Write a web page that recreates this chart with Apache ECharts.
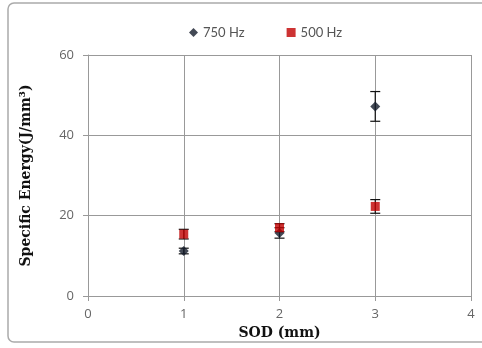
<!DOCTYPE html>
<html>
<head>
<meta charset="utf-8">
<script src="https://cdn.jsdelivr.net/npm/echarts@6/dist/echarts.min.js"></script>
<style>
  html, body { margin: 0; padding: 0; background: #fff; }
  #chart { width: 482px; height: 348px; }
</style>
</head>
<body>
<div id="chart"></div>
<script>
// data
const sod = [1, 2, 3]
const energy750 = [11.2, 15.7, 47.2]
const err750 = [0.7, 1.3, 3.7]
const energy500 = [15.4, 17.0, 22.3]
const err500 = [1.2, 1.0, 1.7]
const xTicks = [0, 1, 2, 3, 4]
const yTicks = [0, 20, 40, 60]

const chart = echarts.init(document.getElementById('chart'))

const pts = (vals) => sod.map((x, i) => [x, vals[i]])
const bars = (vals, errs) => sod.map((x, i) => [x, vals[i] - errs[i], vals[i] + errs[i]])

const errorBar = (params, api) => {
  const x = api.value(0)
  const lo = api.coord([x, api.value(1)])
  const hi = api.coord([x, api.value(2)])
  const w = 5
  const style = { stroke: '#111', lineWidth: 1.2 }
  return {
    type: 'group',
    children: [
      { type: 'line', shape: { x1: lo[0], y1: lo[1], x2: hi[0], y2: hi[1] }, style },
      { type: 'line', shape: { x1: lo[0] - w, y1: lo[1], x2: lo[0] + w, y2: lo[1] }, style },
      { type: 'line', shape: { x1: hi[0] - w, y1: hi[1], x2: hi[0] + w, y2: hi[1] }, style }
    ]
  }
}

const axisFont = { color: '#666', fontSize: 13, fontFamily: 'Open Sans' }
const nameFont = { color: '#111', fontSize: 14, fontWeight: 'bold', fontFamily: 'DejaVu Serif' }

chart.setOption({
  animation: false,
  graphic: [{
    type: 'rect',
    shape: { x: 8, y: 3, width: 490, height: 339, r: 6 },
    style: { fill: 'none', stroke: '#aaa', lineWidth: 1.5 },
    silent: true
  }],
  legend: {
    top: 21,
    left: 184,
    itemGap: 42,
    itemWidth: 9,
    itemHeight: 9,
    textStyle: { color: '#555', fontSize: 13, fontFamily: 'Lato' },
    data: [
      { name: '750 Hz', icon: 'diamond' },
      { name: '500 Hz', icon: 'rect' }
    ]
  },
  grid: { left: 88, right: 11, top: 55, bottom: 52 },
  xAxis: {
    type: 'value',
    min: xTicks[0],
    max: xTicks[xTicks.length - 1],
    interval: 1,
    name: 'SOD (mm)',
    nameLocation: 'middle',
    nameGap: 27,
    nameTextStyle: nameFont,
    axisLine: { lineStyle: { color: '#999' } },
    axisTick: { show: true, length: 5, lineStyle: { color: '#999' } },
    axisLabel: Object.assign({ margin: 12 }, axisFont),
    splitLine: { show: true, lineStyle: { color: '#999' } }
  },
  yAxis: {
    type: 'value',
    min: yTicks[0],
    max: yTicks[yTicks.length - 1],
    interval: 20,
    name: 'Specific Energy(J/mm³)',
    nameLocation: 'middle',
    nameGap: 55,
    nameTextStyle: nameFont,
    axisLine: { show: true, lineStyle: { color: '#999' } },
    axisTick: { show: true, length: 5, lineStyle: { color: '#999' } },
    axisLabel: Object.assign({ margin: 14 }, axisFont),
    splitLine: { show: true, lineStyle: { color: '#999' } }
  },
  series: [
    {
      name: '750 Hz',
      type: 'scatter',
      symbol: 'diamond',
      symbolSize: 10,
      itemStyle: { color: '#141b2a' },
      data: pts(energy750),
      z: 3
    },
    {
      name: '500 Hz',
      type: 'scatter',
      symbol: 'rect',
      symbolSize: 9,
      itemStyle: { color: '#c00000' },
      data: pts(energy500),
      z: 4
    },
    {
      type: 'custom',
      renderItem: errorBar,
      data: bars(energy750, err750),
      encode: { x: 0, y: [1, 2] },
      z: 2
    },
    {
      type: 'custom',
      renderItem: errorBar,
      data: bars(energy500, err500),
      encode: { x: 0, y: [1, 2] },
      z: 2
    }
  ]
})
</script>
</body>
</html>
